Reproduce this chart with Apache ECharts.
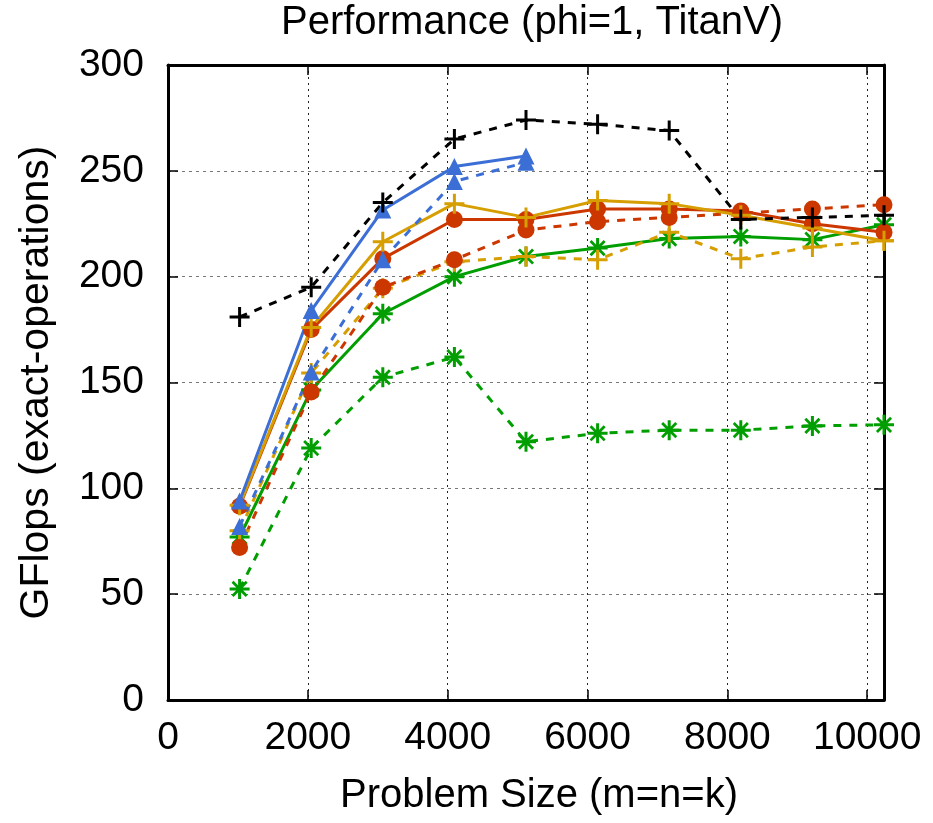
<!DOCTYPE html>
<html>
<head>
<meta charset="utf-8">
<script src="https://cdn.jsdelivr.net/npm/echarts@6/dist/echarts.min.js"></script>
<style>
  html, body { margin: 0; padding: 0; background: #fff; }
  #chart { width: 933px; height: 823px; }
</style>
</head>
<body>
<div id="chart"></div>
<script>
const sizes = [1024, 2048, 3072, 4096, 5120, 6144, 7168, 8192, 9216, 10240];

const blackDashed  = [181, 195, 235, 265, 274, 272, 269, 227, 228, 229];
const blueSolid    = [94, 184, 231.5, 252, 257];
const blueDashed   = [82, 155, 208, 245, 254];
const yellowSolid  = [92, 176, 216.5, 234.5, 228, 236, 234.5, 229, 223, 217];
const yellowDashed = [80, 154.5, 194.5, 207, 209.5, 208, 221, 208.5, 214, 217];
const redSolid     = [91.5, 175, 208.5, 227, 227, 232, 232, 231, 225, 221];
const redDashed    = [72, 145.5, 195, 208, 222, 226, 228, 230, 232, 234];
const greenSolid   = [77, 146.5, 182.5, 200, 209.5, 213.5, 218, 219, 217.5, 224.5];
const greenDashed  = [52.5, 119, 152.5, 162, 122, 126, 127.5, 127.5, 129.5, 130];

const xTicks = [0, 2000, 4000, 6000, 8000, 10000];
const yTicks = [0, 50, 100, 150, 200, 250, 300];

// gnuplot-like point shapes
const plusPath = 'path://M-1.5,-10 L1.5,-10 L1.5,-1.5 L10,-1.5 L10,1.5 L1.5,1.5 L1.5,10 L-1.5,10 L-1.5,1.5 L-10,1.5 L-10,-1.5 L-1.5,-1.5 Z';
const starPath = plusPath +
  ' M-6.08,-8.06 L8.06,6.08 L6.08,8.06 L-8.06,-6.08 Z' +
  ' M8.06,-6.08 L-6.08,8.06 L-8.06,6.08 L6.08,-8.06 Z';

const BLACK = '#000000', BLUE = '#3b6fd6', YELLOW = '#d69e00', RED = '#cc3700', GREEN = '#009e00';

function pairs(vals) {
  return vals.map((v, i) => [sizes[i], v]);
}

function mk(vals, color, dashed, symbol, size) {
  return {
    type: 'line',
    data: pairs(vals),
    symbol: symbol,
    symbolSize: size,
    showAllSymbol: true,
    animation: false,
    lineStyle: { color: color, width: 3, type: dashed ? [8, 8] : 'solid' },
    itemStyle: { color: color },
    z: 3
  };
}

const chart = echarts.init(document.getElementById('chart'));

const font = 'Liberation Sans, Arial, Helvetica, sans-serif';

const option = {
  backgroundColor: '#fff',
  animation: false,
  title: {
    text: 'Performance (phi=1, TitanV)',
    left: 527,
    textAlign: 'center',
    top: -2,
    textStyle: { fontFamily: font, fontSize: 40, fontWeight: 'normal', color: '#000' }
  },
  grid: { left: 168, right: 49, top: 65, bottom: 123 },
  xAxis: [{
    type: 'value',
    min: 0, max: 10240, interval: 2000,
    name: 'Problem Size (m=n=k)',
    nameLocation: 'middle',
    nameGap: 76,
    nameTextStyle: { fontFamily: font, fontSize: 40, color: '#000', padding: [0, 0, 0, 26] },
    axisLine: { show: true, onZero: false, lineStyle: { color: '#000', width: 3 } },
    axisTick: { show: true, inside: true, length: 10, lineStyle: { color: '#000', width: 1.5 } },
    axisLabel: {
      fontFamily: font, fontSize: 39, color: '#000', margin: 19, showMaxLabel: false,
      formatter: v => xTicks.includes(v) ? String(v) : ''
    },
    splitLine: { show: true, lineStyle: { color: '#222', width: 1, type: [2, 4] } }
  }, {
    type: 'value',
    position: 'top',
    min: 0, max: 10240, interval: 2000,
    axisLine: { show: true, onZero: false, lineStyle: { color: '#000', width: 3 } },
    axisTick: { show: true, inside: true, length: 10, lineStyle: { color: '#000', width: 1.5 } },
    axisLabel: { show: false },
    splitLine: { show: false }
  }],
  yAxis: [{
    type: 'value',
    min: 0, max: 300, interval: 50,
    name: 'GFlops (exact-operations)',
    nameLocation: 'middle',
    nameGap: 111,
    nameTextStyle: { fontFamily: font, fontSize: 41, color: '#000' },
    axisLine: { show: true, onZero: false, lineStyle: { color: '#000', width: 3 } },
    axisTick: { show: true, inside: true, length: 10, lineStyle: { color: '#000', width: 1.5 } },
    axisLabel: {
      fontFamily: font, fontSize: 39, color: '#000', margin: 24,
      formatter: v => yTicks.includes(v) ? String(v) : ''
    },
    splitLine: { show: true, lineStyle: { color: '#777', width: 1.2, type: [3, 4] } }
  }, {
    type: 'value',
    position: 'right',
    min: 0, max: 300, interval: 50,
    axisLine: { show: true, onZero: false, lineStyle: { color: '#000', width: 3 } },
    axisTick: { show: true, inside: true, length: 10, lineStyle: { color: '#000', width: 1.5 } },
    axisLabel: { show: false },
    splitLine: { show: false }
  }],
  series: [
    mk(greenDashed, GREEN, true, starPath, 20),
    mk(greenSolid, GREEN, false, starPath, 20),
    mk(yellowDashed, YELLOW, true, plusPath, 20),
    mk(redDashed, RED, true, 'circle', 17),
    mk(redSolid, RED, false, 'circle', 17),
    mk(yellowSolid, YELLOW, false, plusPath, 20),
    mk(blueDashed, BLUE, true, 'triangle', 17),
    mk(blueSolid, BLUE, false, 'triangle', 17),
    mk(blackDashed, BLACK, true, plusPath, 20)
  ]
};

chart.setOption(option);
</script>
</body>
</html>
